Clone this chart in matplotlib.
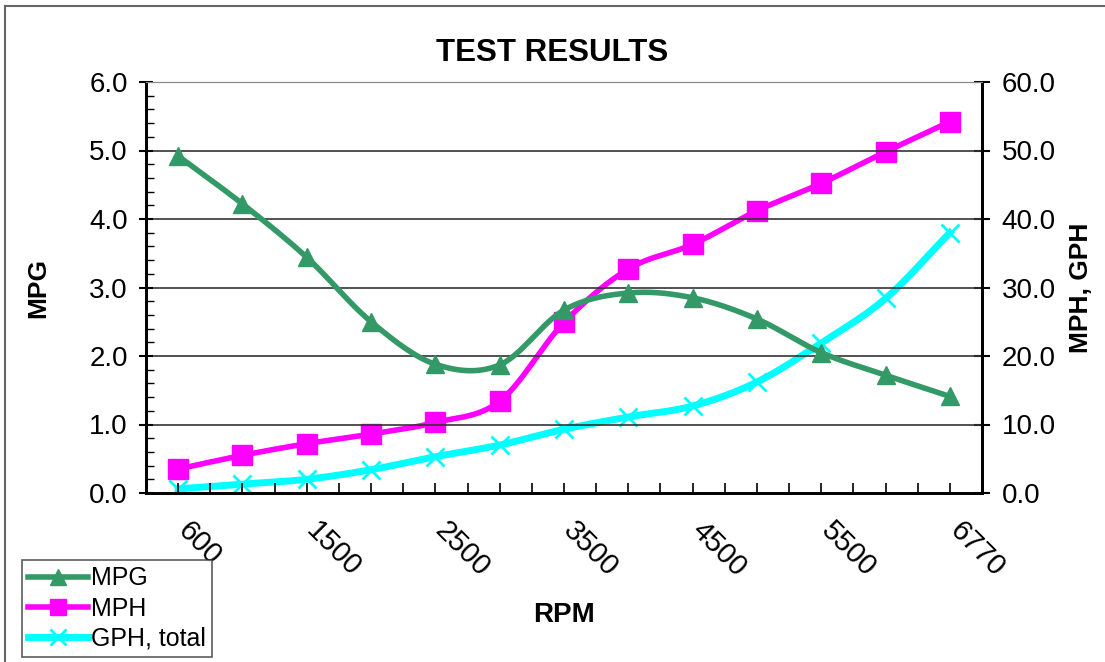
import numpy as np
import matplotlib
matplotlib.use("Agg")
import matplotlib.pyplot as plt
from matplotlib.lines import Line2D
from matplotlib.ticker import MultipleLocator
from matplotlib.transforms import ScaledTranslation

plt.rcParams['font.family'] = ['Liberation Sans', 'DejaVu Sans']

RPM = ["600", "1000", "1500", "2000", "2500", "3000", "3500",
       "4000", "4500", "5000", "5500", "6000", "6770"]
MPG = [4.92, 4.22, 3.44, 2.50, 1.88, 1.87, 2.67, 2.92, 2.85, 2.54, 2.05, 1.72, 1.41]
MPH = [3.5, 5.5, 7.2, 8.6, 10.3, 13.4, 24.9, 32.7, 36.3, 41.2, 45.2, 49.8, 54.2]
GPH = [0.6, 1.3, 2.0, 3.4, 5.3, 7.0, 9.3, 11.1, 12.7, 16.2, 21.9, 28.4, 38.0]

GREEN = "#339966"
MAGENTA = "#ff00ff"
CYAN = "#00ffff"


def smooth(y, n=30):
    # catmull-rom through the points, like excel's smoothed line
    y = np.asarray(y, float)
    x = np.arange(len(y), dtype=float)
    px = np.concatenate([[2*x[0]-x[1]], x, [2*x[-1]-x[-2]]])
    py = np.concatenate([[2*y[0]-y[1]], y, [2*y[-1]-y[-2]]])
    xs, ys = [], []
    t = np.linspace(0, 1, n, endpoint=False)
    for i in range(1, len(px)-2):
        p0, p1, p2, p3 = py[i-1], py[i], py[i+1], py[i+2]
        q0, q1, q2, q3 = px[i-1], px[i], px[i+1], px[i+2]
        f = lambda a, b, c, d: 0.5*((2*b) + (-a+c)*t + (2*a-5*b+4*c-d)*t**2 + (-a+3*b-3*c+d)*t**3)
        xs.append(f(q0, q1, q2, q3))
        ys.append(f(p0, p1, p2, p3))
    xs.append([x[-1]])
    ys.append([y[-1]])
    return np.concatenate(xs), np.concatenate(ys)


fig = plt.figure(figsize=(11.05, 6.62), dpi=100)
ax = fig.add_axes([146/1105, 1-493/662, (982-146)/1105, (493-82)/662])
ax2 = ax.twinx()

x = np.arange(len(RPM))

sx, sy = smooth(MPG)
ax.plot(sx, sy, color=GREEN, lw=4, zorder=3)
ax.plot(x, MPG, ls="none", marker="^", ms=13, color=GREEN, zorder=4)

for vals, col, mk, ms, mew in [(MPH, MAGENTA, "s", 14, 1), (GPH, CYAN, "x", 13, 2)]:
    sx, sy = smooth(vals)
    ax2.plot(sx, sy, color=col, lw=4 if col == MAGENTA else 5, zorder=3)
    ax2.plot(x, vals, ls="none", marker=mk, ms=ms, mew=mew, color=col, zorder=4)

ax.set_xlim(-0.5, len(RPM)-0.5)
ax.set_ylim(0, 6)
ax2.set_ylim(0, 60)

ax.set_yticks(np.arange(0, 6.1, 1))
ax.set_yticklabels(["%.1f" % v for v in np.arange(0, 6.1, 1)], fontsize=20)
ax.yaxis.set_minor_locator(MultipleLocator(0.2))
ax.tick_params(axis="y", which="major", direction="inout", length=10, width=1.5, pad=8)
ax.tick_params(axis="y", which="minor", direction="in", length=6, width=1)
ax.grid(axis="y", color="#333333", lw=1.2)

ax2.set_yticks(np.arange(0, 61, 10))
ax2.set_yticklabels(["%.1f" % v for v in np.arange(0, 61, 10)], fontsize=20)
ax2.tick_params(axis="y", direction="inout", length=12, width=1.5, pad=8)

ax.set_xticks(np.arange(-0.5, len(RPM), 0.5), minor=True)
ax.set_xticks(x[::2])
ax.set_xticklabels(RPM[::2], rotation=-45, ha="left", va="top", fontsize=21)
ax.tick_params(axis="x", which="both", direction="in", length=7, width=1.2, pad=17)
shift = ScaledTranslation(-6/100, 0, fig.dpi_scale_trans)
for lab in ax.get_xticklabels():
    lab.set_transform(lab.get_transform() + shift)

ax.set_ylabel("MPG", fontsize=19, fontweight="bold", labelpad=28)
ax2.set_ylabel("MPH, GPH", fontsize=19, fontweight="bold", labelpad=10)
ax.set_xlabel("RPM", fontsize=20, fontweight="bold", labelpad=14)
fig.text(0.5, 1-53/662, "TEST RESULTS", ha="center", va="center",
         fontsize=22.5, fontweight="bold")

for a in (ax, ax2):
    a.spines["top"].set_color("#888888")
    a.spines["left"].set_linewidth(2)
    a.spines["bottom"].set_linewidth(2)
    a.spines["right"].set_linewidth(2)
ax.set_zorder(ax2.get_zorder()+1)
ax.patch.set_visible(False)

handles = [
    Line2D([], [], color=GREEN, lw=4, marker="^", ms=11),
    Line2D([], [], color=MAGENTA, lw=4, marker="s", ms=11),
    Line2D([], [], color=CYAN, lw=5, marker="x", ms=11, mew=2),
]
leg = fig.legend(handles, ["MPG", "MPH", "GPH, total"], loc="lower left",
                 bbox_to_anchor=(22/1105, 1-657/662), fontsize=18, frameon=True,
                 fancybox=False, edgecolor="#333333", handlelength=2.4,
                 handletextpad=0.1, borderpad=0.25, labelspacing=0.25,
                 borderaxespad=0)
leg.get_frame().set_linewidth(1.2)

# chart area border (top and left edges visible)
fig.add_artist(Line2D([5/1105, 1.0], [1-6/662, 1-6/662], color="#666666", lw=1.5))
fig.add_artist(Line2D([5/1105, 5/1105], [0, 1-6/662], color="#666666", lw=1.5))

fig.savefig("out.png", dpi=100)
